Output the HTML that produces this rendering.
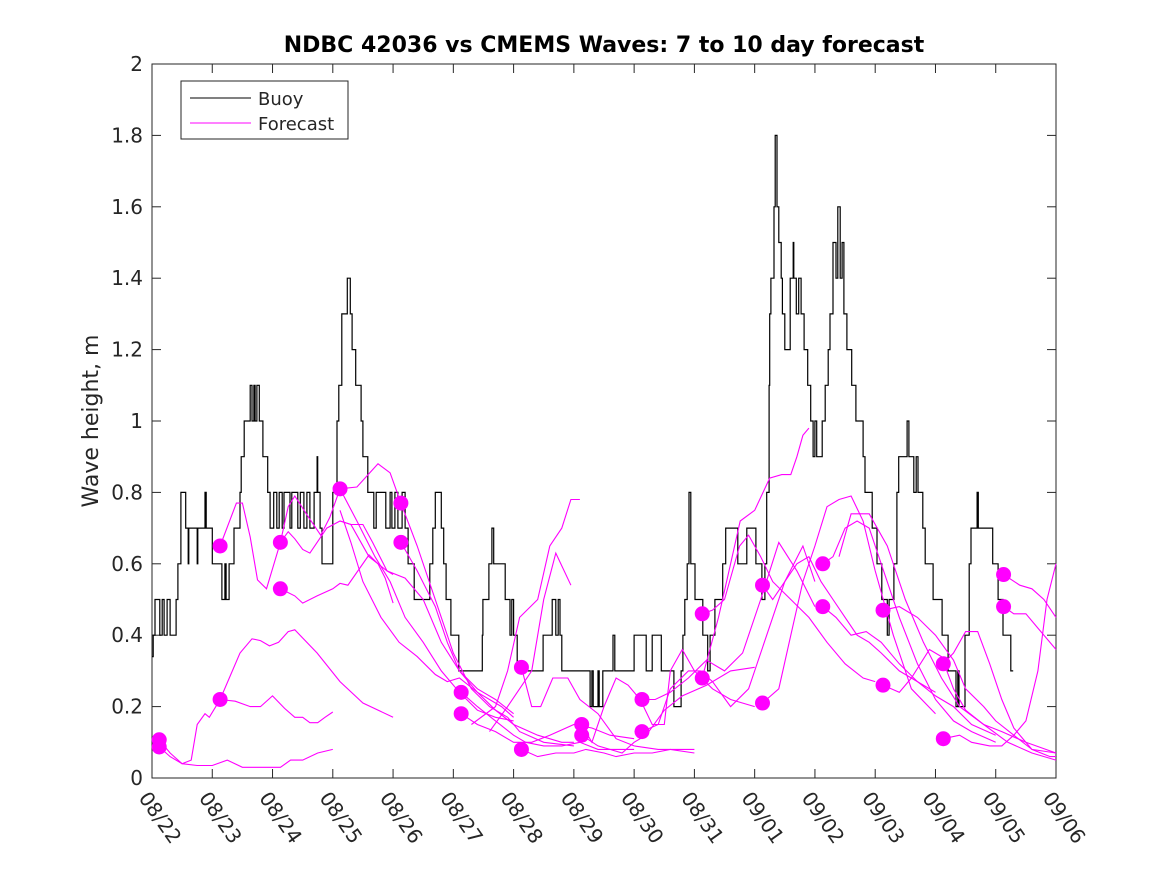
<!DOCTYPE html>
<html><head><meta charset="utf-8"><style>
body{margin:0;background:#fff}
svg text{font-family:"DejaVu Sans","Liberation Sans",sans-serif;fill:#262626}
</style></head><body>
<svg id="chart" width="1167" height="875" viewBox="0 0 1167 875" xmlns="http://www.w3.org/2000/svg">
<rect width="1167" height="875" fill="#fff"/>
<text x="604" y="52" text-anchor="middle" font-size="22" font-weight="bold" style="fill:#000">NDBC 42036 vs CMEMS Waves: 7 to 10 day forecast</text>
<text transform="translate(98,421) rotate(-90)" text-anchor="middle" font-size="22">Wave height, m</text>
<g id="plot"></g>
</svg>
<script>
const xTickLabels=["08/22","08/23","08/24","08/25","08/26","08/27","08/28","08/29","08/30","08/31","09/01","09/02","09/03","09/04","09/05","09/06"];
const yTicks=[0,0.2,0.4,0.6,0.8,1,1.2,1.4,1.6,1.8,2];
const yTickLabels=["0","0.2","0.4","0.6","0.8","1","1.2","1.4","1.6","1.8","2"];
const buoyT=[0,0.02,0.05,0.13,0.17,0.2,0.25,0.3,0.4,0.43,0.48,0.56,0.6,0.61,0.75,0.76,0.88,0.9,1.0,1.16,1.21,1.23,1.28,1.36,1.46,1.48,1.53,1.63,1.66,1.69,1.71,1.74,1.78,1.84,1.92,1.96,2.02,2.07,2.11,2.16,2.19,2.29,2.32,2.42,2.46,2.52,2.57,2.62,2.69,2.74,2.75,2.79,2.82,3.0,3.07,3.1,3.15,3.24,3.29,3.32,3.38,3.47,3.5,3.58,3.68,3.72,3.88,3.95,3.98,4.03,4.08,4.15,4.2,4.25,4.35,4.61,4.66,4.7,4.8,4.84,4.88,4.96,5.09,5.48,5.49,5.59,5.64,5.67,5.86,5.94,5.97,6.0,6.06,6.49,6.64,6.7,6.74,6.77,6.8,7.27,7.3,7.32,7.4,7.42,7.48,7.65,7.68,8.0,8.2,8.3,8.45,8.66,8.78,8.81,8.84,8.88,8.91,8.94,9.01,9.14,9.22,9.26,9.34,9.47,9.52,9.72,9.87,10.02,10.12,10.17,10.2,10.24,10.25,10.27,10.32,10.34,10.37,10.4,10.44,10.46,10.5,10.59,10.64,10.65,10.69,10.73,10.77,10.82,10.88,10.93,10.97,11.0,11.03,11.12,11.17,11.22,11.25,11.3,11.35,11.38,11.42,11.45,11.48,11.53,11.61,11.68,11.8,11.83,11.95,12.03,12.11,12.2,12.23,12.31,12.36,12.39,12.53,12.56,12.64,12.68,12.71,12.79,12.83,12.96,13.11,13.21,13.34,13.37,13.39,13.49,13.56,13.59,13.69,13.71,13.95,14.04,14.12,14.25,14.29];
const buoyV=[0.34,0.4,0.5,0.4,0.5,0.4,0.5,0.4,0.5,0.6,0.8,0.7,0.6,0.7,0.6,0.7,0.8,0.7,0.6,0.5,0.6,0.5,0.6,0.7,0.8,0.9,1.0,1.1,1.0,1.1,1.0,1.1,1.0,0.9,0.8,0.7,0.8,0.7,0.8,0.7,0.8,0.7,0.8,0.7,0.8,0.7,0.8,0.7,0.8,0.9,0.8,0.7,0.6,0.8,1.0,1.1,1.3,1.4,1.3,1.2,1.1,1.0,0.9,0.8,0.7,0.8,0.7,0.8,0.7,0.8,0.7,0.8,0.7,0.6,0.5,0.6,0.7,0.8,0.7,0.6,0.5,0.4,0.3,0.4,0.5,0.6,0.7,0.6,0.5,0.4,0.5,0.4,0.3,0.4,0.5,0.4,0.5,0.4,0.3,0.2,0.3,0.2,0.3,0.2,0.3,0.4,0.3,0.4,0.3,0.4,0.3,0.2,0.3,0.4,0.5,0.6,0.8,0.6,0.5,0.4,0.3,0.4,0.5,0.6,0.7,0.6,0.7,0.6,0.5,0.6,0.8,1.1,1.3,1.4,1.6,1.8,1.6,1.5,1.4,1.3,1.2,1.4,1.5,1.4,1.3,1.4,1.3,1.2,1.1,1.0,0.9,1.0,0.9,1.0,1.1,1.2,1.3,1.5,1.4,1.6,1.4,1.5,1.3,1.2,1.1,1.0,0.9,0.8,0.7,0.6,0.5,0.4,0.5,0.6,0.8,0.9,1.0,0.9,0.8,0.9,0.8,0.7,0.6,0.5,0.4,0.3,0.2,0.3,0.2,0.4,0.6,0.7,0.8,0.7,0.6,0.5,0.4,0.3,0.3];
const fcT=[
[0.12,0.3,0.5,0.65,0.75,0.88,0.95,1.13,1.46,1.66,1.8,1.95,2.1,2.26,2.37,2.74,3.12,3.5,4.0],
[0.12,0.3,0.5,0.75,1.0,1.25,1.5,1.88,2.13,2.3,2.5,2.75,3.0],
[1.13,1.38,1.63,1.8,2.0,2.2,2.37,2.5,2.62,2.75,2.87,3.0],
[1.13,1.4,1.5,1.63,1.75,1.9,2.13,2.26,2.37,2.6,2.8,2.95,3.12,3.4,3.75,3.95,4.13],
[2.13,2.26,2.37,2.5,2.62,2.74,2.9,3.12,3.3,3.5,3.66,3.9,4.0],
[2.13,2.37,2.5,2.74,3.0,3.12,3.25,3.6,3.75,3.87,4.0],
[3.12,3.4,3.7,3.95,4.2,4.5,4.8,5.1,5.4,5.7,6.0],
[4.13,4.4,4.6,4.8,5.0,5.3,5.6,5.9,6.1,6.5,7.0],
[4.13,4.4,4.7,4.9,5.1,5.4,5.7,6.0,6.4,6.8,7.0],
[3.12,3.3,3.6,3.9,4.2,4.5,4.8,5.1,5.4,5.7,6.0],
[3.12,3.3,3.5,3.8,4.1,4.4,4.7,4.9,5.1,5.4,5.8,6.0],
[5.13,5.4,5.7,6.0,6.2,6.5,6.8,7.1,7.4,7.7,8.0],
[5.13,5.4,5.7,6.0,6.3,6.6,7.0,7.3,7.6,8.0],
[5.3,5.7,5.9,6.1,6.4,6.6,6.8,6.95,7.1],
[5.6,5.9,6.1,6.3,6.5,6.7,6.95],
[6.13,6.3,6.45,6.65,6.9,7.1,7.4,7.7,8.0,8.4,8.6,9.0],
[6.13,6.4,6.7,7.0,7.2,7.5,7.7,8.0,8.3,8.6,9.0],
[7.13,7.3,7.5,7.7,7.9,8.1,8.3,8.5,8.6,8.8,9.0,9.3,9.6,10.0],
[7.13,7.4,7.6,7.8,8.0,8.2,8.5,8.8,9.2,9.6,10.0],
[8.13,8.35,8.6,8.9,9.2,9.5,9.8,10.1,10.4,10.7,11.0],
[8.13,8.4,8.6,8.9,9.1,9.3,9.6,9.9,10.2,10.5,10.8,11.0],
[9.13,9.3,9.5,9.75,9.9,10.1,10.3,10.6,10.9,11.2,11.5,11.8,12.0],
[9.13,9.4,9.6,9.76,10.0,10.25,10.45,10.6,10.7,10.8,10.9],
[10.13,10.3,10.5,10.7,10.9,11.1,11.3,11.5,11.7,11.9,12.1,12.4,12.7,13.0],
[10.13,10.4,10.6,10.8,11.0,11.2,11.4,11.6,11.8,12.0,12.3,12.6,13.0],
[11.13,11.3,11.5,11.7,11.9,12.1,12.4,12.7,13.0,13.3,13.6,14.0],
[11.13,11.35,11.6,11.85,12.1,12.4,12.7,13.0,13.3,13.6,14.0],
[11.4,11.6,11.9,12.2,12.5,12.8,13.1,13.4,13.8,14.2,14.6,15.0],
[12.13,12.4,12.7,13.0,13.3,13.5,13.8,14.0,14.3,14.6,15.0],
[12.13,12.4,12.6,12.9,13.1,13.3,13.5,13.8,14.1,14.5,15.0],
[13.13,13.3,13.5,13.7,13.9,14.1,14.3,14.6,14.9,15.0],
[13.13,13.4,13.6,13.9,14.1,14.3,14.5,14.7,14.85,15.0],
[14.13,14.4,14.6,14.8,15.0],
[14.13,14.3,14.5,14.7,15.0]
];
const fcV=[
[0.107,0.07,0.04,0.05,0.15,0.18,0.17,0.22,0.35,0.39,0.385,0.37,0.38,0.41,0.415,0.35,0.27,0.21,0.17],
[0.087,0.06,0.04,0.035,0.035,0.05,0.03,0.03,0.03,0.05,0.05,0.07,0.08],
[0.22,0.215,0.2,0.2,0.23,0.195,0.17,0.17,0.155,0.155,0.17,0.185],
[0.65,0.77,0.77,0.675,0.555,0.53,0.66,0.76,0.79,0.73,0.68,0.73,0.81,0.815,0.88,0.855,0.77],
[0.66,0.69,0.67,0.64,0.63,0.66,0.70,0.72,0.71,0.71,0.66,0.58,0.57],
[0.53,0.51,0.49,0.51,0.53,0.545,0.54,0.625,0.6,0.56,0.49],
[0.81,0.72,0.62,0.55,0.45,0.38,0.3,0.24,0.19,0.17,0.16],
[0.77,0.65,0.55,0.45,0.35,0.25,0.2,0.17,0.13,0.1,0.09],
[0.66,0.58,0.48,0.38,0.3,0.24,0.19,0.15,0.12,0.1,0.1],
[0.72,0.71,0.62,0.58,0.56,0.5,0.38,0.3,0.25,0.22,0.18],
[0.75,0.66,0.55,0.45,0.38,0.34,0.29,0.27,0.28,0.24,0.2,0.17],
[0.24,0.2,0.16,0.12,0.1,0.09,0.09,0.1,0.08,0.08,0.08],
[0.18,0.15,0.13,0.1,0.1,0.12,0.15,0.14,0.12,0.11],
[0.15,0.2,0.3,0.45,0.5,0.65,0.7,0.78,0.78],
[0.13,0.2,0.25,0.3,0.5,0.63,0.54],
[0.31,0.2,0.2,0.28,0.28,0.22,0.18,0.11,0.09,0.08,0.08,0.07],
[0.08,0.06,0.07,0.07,0.08,0.07,0.06,0.07,0.07,0.08,0.08],
[0.15,0.1,0.2,0.28,0.26,0.22,0.15,0.15,0.3,0.36,0.3,0.25,0.22,0.2],
[0.12,0.09,0.08,0.07,0.1,0.12,0.19,0.23,0.26,0.3,0.31],
[0.22,0.22,0.24,0.28,0.33,0.3,0.35,0.5,0.66,0.58,0.48],
[0.13,0.15,0.25,0.3,0.3,0.27,0.2,0.25,0.4,0.55,0.65,0.55],
[0.46,0.47,0.5,0.65,0.68,0.62,0.55,0.5,0.45,0.38,0.32,0.28,0.27],
[0.28,0.45,0.6,0.72,0.75,0.84,0.85,0.85,0.9,0.96,0.98],
[0.54,0.5,0.55,0.6,0.62,0.55,0.5,0.45,0.4,0.38,0.35,0.3,0.27,0.24],
[0.21,0.25,0.4,0.55,0.65,0.76,0.78,0.79,0.72,0.58,0.4,0.25,0.18],
[0.60,0.62,0.7,0.72,0.7,0.6,0.45,0.32,0.22,0.16,0.13,0.1],
[0.48,0.45,0.4,0.41,0.38,0.32,0.27,0.23,0.2,0.15,0.12],
[0.62,0.74,0.74,0.65,0.5,0.38,0.28,0.2,0.15,0.1,0.07,0.05],
[0.47,0.48,0.45,0.4,0.33,0.25,0.2,0.16,0.12,0.08,0.07],
[0.26,0.24,0.28,0.36,0.34,0.25,0.19,0.15,0.13,0.1,0.07],
[0.32,0.35,0.41,0.41,0.32,0.22,0.14,0.08,0.06,0.06],
[0.11,0.12,0.1,0.09,0.09,0.12,0.16,0.3,0.5,0.6],
[0.57,0.54,0.53,0.5,0.45],
[0.48,0.46,0.46,0.42,0.36]
];
const dotT=[0.12,0.12,1.13,1.13,2.13,2.13,3.12,4.13,4.13,5.13,5.13,6.13,6.13,7.13,7.13,8.13,8.13,9.13,9.13,10.13,10.13,11.13,11.13,12.13,12.13,13.13,13.13,14.13,14.13];
const dotV=[0.107,0.087,0.65,0.22,0.66,0.53,0.81,0.77,0.66,0.24,0.18,0.31,0.08,0.15,0.12,0.22,0.13,0.46,0.28,0.54,0.21,0.60,0.48,0.47,0.26,0.32,0.11,0.57,0.48];

const X0=152,X1=1056,Y0=778,Y1=64;
const xs=d=>X0+(X1-X0)*d/15;
const ys=v=>Y0-(Y0-Y1)*v/2;
const NS="http://www.w3.org/2000/svg";
const g=document.getElementById('plot');
function mk(tag,attrs,parent){const e=document.createElementNS(NS,tag);for(const k in attrs)e.setAttribute(k,attrs[k]);(parent||g).appendChild(e);return e;}

const frame=mk('rect',{x:X0,y:Y1,width:X1-X0,height:Y0-Y1,fill:'#fff',stroke:'#262626','stroke-width':1});



xTickLabels.forEach((lab,i)=>{
  const x=xs(i);
  const t1=mk('line',{x1:x,y1:Y0,x2:x,y2:Y0-9,stroke:'#262626'});
  
  
  const t2=mk('line',{x1:x,y1:Y1,x2:x,y2:Y1+9,stroke:'#262626'});
  
  
  const tx=mk('text',{transform:`translate(${x-14},${Y0+20}) rotate(55)`,'font-size':20});
  tx.textContent=lab;
  
  
});
yTicks.forEach((v,i)=>{
  const y=ys(v);
  const t1=mk('line',{x1:X0,y1:y,x2:X0+9,y2:y,stroke:'#262626'});
  
  
  const t2=mk('line',{x1:X1,y1:y,x2:X1-9,y2:y,stroke:'#262626'});
  
  
  const tx=mk('text',{x:X0-9,y:y+7,'text-anchor':'end','font-size':20});
  tx.textContent=yTickLabels[i];
  
  
});

let d='';
for(let i=0;i<buoyT.length;i++){
  const x=xs(buoyT[i]).toFixed(1),y=ys(buoyV[i]).toFixed(1);
  if(i===0)d+=`M${x},${y}`;else d+=`H${x}V${y}`;
}
const bp=mk('path',{d:d,fill:'none',stroke:'#000','stroke-width':1.2});



fcT.forEach((ts,k)=>{
  const pts=ts.map((t,i)=>xs(t).toFixed(1)+','+ys(fcV[k][i]).toFixed(1)).join(' ');
  const pl=mk('polyline',{points:pts,fill:'none',stroke:'#ff00ff','stroke-width':1.1});
  
  
});
dotT.forEach((t,i)=>{
  const c=mk('circle',{cx:xs(t),cy:ys(dotV[i]),r:7.5,fill:'#ff00ff'});
  
  
});

const lg=mk('g',{});


mk('rect',{x:181,y:81,width:167,height:58,fill:'#fff',stroke:'#262626'},lg);
mk('line',{x1:190,y1:98,x2:251,y2:98,stroke:'#000'},lg);
mk('line',{x1:190,y1:123,x2:251,y2:123,stroke:'#ff00ff'},lg);
const l1=mk('text',{x:258,y:105,'font-size':18},lg);l1.textContent='Buoy';


const l2=mk('text',{x:258,y:130,'font-size':18},lg);l2.textContent='Forecast';


</script>
</body></html>
